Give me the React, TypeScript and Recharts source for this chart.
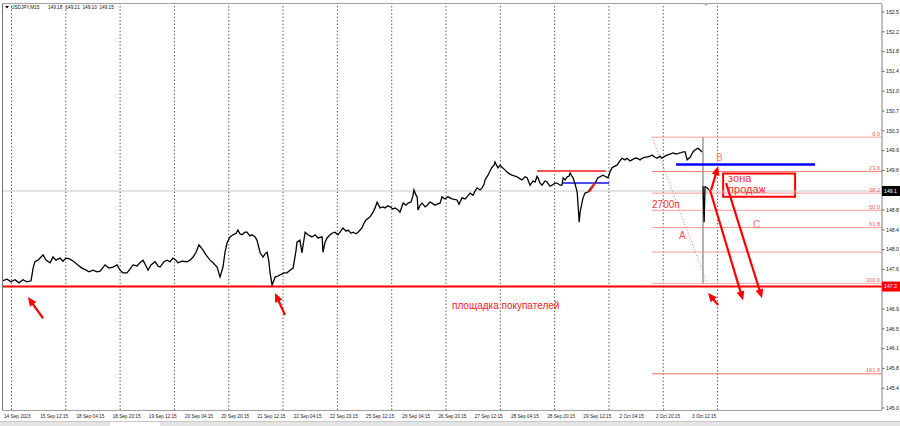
import React from 'react';
import { ComposedChart, Line, XAxis, YAxis, ReferenceLine, ReferenceDot, ReferenceArea } from 'recharts';

// ---------- axes ----------
const X_MAX = 388.4; // hours of trading time shown
const Y_MIN = 144.962;
const Y_MAX = 152.652;

const X_TICKS = [0, 16, 32, 48, 64, 80, 96, 112, 128, 144, 160, 176, 192, 208, 224, 240, 256, 272, 288, 304];
const X_LABELS = [
  '14 Sep 2023', '15 Sep 12:15', '18 Sep 04:15', '18 Sep 20:15', '19 Sep 12:15', '20 Sep 04:15',
  '20 Sep 20:15', '21 Sep 12:15', '22 Sep 04:15', '22 Sep 20:15', '25 Sep 12:15', '26 Sep 04:15',
  '26 Sep 20:15', '27 Sep 12:15', '28 Sep 04:15', '28 Sep 20:15', '29 Sep 12:15', '2 Oct 04:15',
  '2 Oct 20:15', '3 Oct 12:15',
];
const DAY_SEPARATORS = [3.75, 27.75, 51.75, 75.75, 99.75, 123.75, 147.75, 171.75, 195.75, 219.75, 243.75, 267.75, 291.75, 315.75];

const Y_TICKS = [145.0, 145.375, 145.75, 146.125, 146.5, 146.875, 147.625, 148.0, 148.375, 148.75, 149.5, 149.875, 150.25, 150.625, 151.0, 151.375, 151.75, 152.125, 152.5];
const Y_LABELS = ['145.0', '145.4', '145.8', '146.1', '146.5', '146.9', '147.6', '148.0', '148.4', '148.8', '149.6', '149.9', '150.3', '150.7', '151.0', '151.4', '151.8', '152.2', '152.5'];

const TAG_PRICES = [147.30, 149.11];
const TAG_LABELS = ['147.3', '149.1'];
const TAG_COLORS = ['#ff0000', '#000000'];

const HEADER_TEXTS = ['USDJPY,M15', '149.18', '149.21', '149.10', '149.15'];

// ---------- price (M15 close, USDJPY) as [hours since start, price] ----------
const PRICE_SERIES: Array<[number, number | null]> = [
  [0, 147.41], [1.8, 147.44], [3.5, 147.39], [5.3, 147.43], [7.1, 147.37], [8.8, 147.43], [10.6, 147.39], [12.4, 147.41],
  [13.3, 147.65], [14.1, 147.77], [15.5, 147.80], [16.8, 147.86], [17.7, 147.90], [19.0, 147.80], [20.8, 147.75], [22.1, 147.86],
  [23.4, 147.80], [25.2, 147.84], [26.5, 147.78], [27.8, 147.84], [29.6, 147.82], [31.4, 147.77], [33.1, 147.71], [34.9, 147.65],
  [36.7, 147.61], [38.0, 147.58], [39.8, 147.61], [41.5, 147.58], [42.9, 147.59], [45.1, 147.71], [46.8, 147.65], [48.6, 147.67],
  [50.4, 147.71], [51.7, 147.61], [53.0, 147.56], [54.8, 147.56], [56.1, 147.63], [57.4, 147.71], [59.2, 147.69], [60.5, 147.75],
  [61.9, 147.80], [63.2, 147.69], [64.1, 147.61], [65.4, 147.71], [67.2, 147.77], [68.5, 147.69], [69.4, 147.67], [71.1, 147.77],
  [72.5, 147.80], [73.8, 147.77], [75.1, 147.84], [76.4, 147.80], [77.3, 147.75], [79.1, 147.78], [81.3, 147.77], [82.6, 147.80],
  [84.0, 147.86], [85.3, 147.95], [86.6, 148.09], [88.4, 147.99], [89.7, 147.90], [91.5, 147.80], [92.8, 147.75], [94.6, 147.67],
  [95.9, 147.48], [97.2, 147.67], [98.1, 147.95], [99.0, 148.13], [100.3, 148.24], [101.6, 148.28], [103.0, 148.31], [103.8, 148.37],
  [104.7, 148.30], [105.6, 148.28], [106.9, 148.33], [107.8, 148.33], [109.1, 148.26], [110.0, 148.28], [111.4, 148.24], [112.2, 148.18],
  [113.1, 148.03], [113.6, 147.94], [114.9, 147.86], [115.8, 147.92], [116.7, 147.95], [117.5, 147.77], [118.0, 147.56], [118.9, 147.33],
  [119.8, 147.43], [120.2, 147.48], [121.5, 147.50], [122.4, 147.52], [124.2, 147.56], [125.5, 147.56], [126.8, 147.61], [128.2, 147.65],
  [129.5, 147.99], [129.9, 148.14], [131.2, 148.18], [132.1, 147.94], [133.5, 148.33], [134.8, 148.28], [136.5, 148.24], [137.9, 148.28],
  [139.2, 148.22], [141.0, 148.24], [141.4, 147.95], [142.3, 148.14], [143.2, 148.22], [144.5, 148.28], [145.4, 148.31], [146.7, 148.33],
  [148.0, 148.28], [148.9, 148.33], [150.2, 148.41], [151.6, 148.35], [152.5, 148.37], [153.8, 148.31], [154.7, 148.33], [156.0, 148.30],
  [156.9, 148.33], [158.6, 148.41], [159.5, 148.50], [160.4, 148.56], [162.2, 148.62], [163.5, 148.71], [164.4, 148.79], [165.3, 148.90],
  [166.6, 148.79], [167.9, 148.81], [168.8, 148.79], [170.1, 148.83], [171.0, 148.81], [172.3, 148.77], [173.2, 148.79], [174.6, 148.75],
  [175.4, 148.71], [176.8, 148.88], [178.1, 148.84], [179.0, 148.88], [180.3, 148.90], [181.2, 149.03], [181.6, 149.13], [182.5, 149.03],
  [183.0, 149.00], [183.4, 148.75], [184.3, 148.84], [185.2, 148.88], [186.5, 148.81], [187.4, 148.84], [188.7, 148.90], [189.6, 148.88],
  [190.9, 148.84], [191.8, 148.86], [193.1, 148.88], [194.0, 149.00], [195.3, 148.96], [196.6, 149.00], [198.4, 148.96], [200.6, 148.94],
  [201.5, 148.86], [202.8, 148.98], [204.2, 148.96], [205.0, 149.00], [206.4, 149.07], [207.7, 149.03], [208.6, 149.11], [209.5, 149.17],
  [210.8, 149.13], [211.7, 149.17], [212.6, 149.24], [213.0, 149.32], [214.3, 149.41], [215.2, 149.49], [216.1, 149.56], [217.0, 149.60],
  [217.4, 149.66], [218.3, 149.58], [218.7, 149.55], [219.6, 149.60], [220.5, 149.56], [221.8, 149.51], [222.7, 149.47], [224.0, 149.43],
  [224.9, 149.41], [226.3, 149.39], [227.1, 149.38], [228.5, 149.34], [229.3, 149.32], [230.7, 149.38], [231.6, 149.36], [232.5, 149.26],
  [232.9, 149.22], [234.2, 149.30], [235.1, 149.28], [236.0, 149.39], [236.4, 149.36], [237.3, 149.26], [238.2, 149.22], [239.5, 149.30],
  [240.4, 149.28], [241.7, 149.20], [242.6, 149.22], [243.9, 149.26], [244.8, 149.26], [246.2, 149.22], [247.0, 149.22], [247.5, 149.36],
  [248.4, 149.32], [249.3, 149.38], [250.1, 149.39], [250.6, 149.45], [251.5, 149.38], [251.9, 149.36], [252.8, 149.24], [253.7, 149.09],
  [254.1, 148.84], [254.6, 148.52], [255.0, 148.71], [255.9, 148.90], [256.3, 148.98], [257.2, 149.07], [258.5, 149.09], [259.4, 149.15],
  [260.7, 149.22], [261.6, 149.26], [262.9, 149.36], [263.8, 149.38], [265.1, 149.41], [266.0, 149.39], [267.3, 149.36], [268.2, 149.47],
  [269.1, 149.55], [270.4, 149.58], [271.3, 149.60], [272.6, 149.68], [273.5, 149.73], [274.8, 149.70], [275.7, 149.73], [277.1, 149.68],
  [277.9, 149.70], [279.3, 149.73], [280.2, 149.73], [281.5, 149.70], [282.4, 149.73], [283.7, 149.75], [284.6, 149.75], [285.9, 149.77],
  [286.8, 149.79], [288.1, 149.75], [289.0, 149.73], [290.3, 149.77], [291.2, 149.73], [292.5, 149.77], [293.4, 149.79], [294.7, 149.81],
  [296.1, 149.83], [297.4, 149.81], [299.2, 149.83], [300.5, 149.85], [301.4, 149.85], [302.3, 149.70], [303.6, 149.75], [304.9, 149.85],
  [305.8, 149.89], [307.1, 149.92], [307.9, 149.89], [308.9, 149.85],
  [309.1, null],
  [309.3, 149.20], [309.8, 148.52], [310.2, 149.19], [311.1, 149.17], [312.0, 149.13],
];

// ---------- Fibonacci grid ----------
const FIB_START = 286.8;
const FIB_LEVELS = [150.13, 149.48, 149.07, 148.745, 148.418, 147.953, 147.36, 145.648];
const FIB_LABELS = ['0.0', '23.6', '38.2', '50.0', '61.8', '', '100.0', '161.8'];
const FIB_COLORS = ['#ff9a9a', '#ff7a7a', '#ff9a9a', '#ff9a9a', '#ff9a9a', '#ff9a9a', '#ffaaaa', '#ff6a6a'];

// ---------- drawn objects ----------
const SUPPORT_PRICE = 147.30;
const CURRENT_PRICE = 149.11;
const SPIKE = { t: 309.3, high: 150.13, low: 147.36 };
const LEG_A = [{ t: 286.8, p: 150.13 }, { t: 311.1, p: 147.36 }];
const BLUE_LINE = [{ t: 297.4, p: 149.61 }, { t: 358.8, p: 149.61 }];
const RED_SHORT = [{ t: 236.0, p: 149.49 }, { t: 266.5, p: 149.49 }];
const BLUE_SHORT = [{ t: 247.5, p: 149.26 }, { t: 267.8, p: 149.26 }];
const RED_TICK = [{ t: 259.0, p: 149.09 }, { t: 261.6, p: 149.26 }];
const SELL_ZONE = { t1: 318.2, t2: 350.0, p1: 149.44, p2: 149.00 };

const ARROWS: Array<{ from: [number, number]; to: [number, number]; w: number }> = [
  { from: [17.7, 146.70], to: [11.0, 147.10], w: 2.2 },
  { from: [124.6, 146.76], to: [120.2, 147.18], w: 2.2 },
  { from: [316.0, 146.95], to: [311.5, 147.18], w: 2.2 },
  { from: [312.9, 149.13], to: [316.0, 149.58], w: 2.2 },
  { from: [312.4, 149.13], to: [327.0, 147.04], w: 2.2 },
  { from: [319.5, 149.26], to: [335.4, 147.08], w: 2.2 },
];

const NOTES: Array<{ t: number; p: number; text: string; size: number; color: string }> = [
  { t: 286.8, p: 148.79, text: '2700п', size: 10, color: '#ff3030' },
  { t: 298.7, p: 148.20, text: 'A', size: 10, color: '#ff4a4a' },
  { t: 315.1, p: 149.68, text: 'B', size: 10, color: '#ff7a7a' },
  { t: 331.4, p: 148.41, text: 'C', size: 10, color: '#ff6a6a' },
  { t: 320.4, p: 149.28, text: 'зона', size: 11, color: '#ff3030' },
  { t: 320.4, p: 149.07, text: 'продаж', size: 11, color: '#ff3030' },
  { t: 198.4, p: 146.87, text: 'площадка покупателей', size: 10, color: '#ff2020' },
];

const FONT = '"Liberation Sans", Arial, sans-serif';

const chartData = PRICE_SERIES.map(([t, p]) => ({ t, p }));

const XTick = (props: any) => {
  const { x, y, payload } = props;
  const i = X_TICKS.indexOf(payload.value);
  return (
    <text x={x + 1} y={y + 8} fontSize={4.7} fill="#222" fontFamily={FONT}>
      {X_LABELS[i]}
    </text>
  );
};

const YTick = (props: any) => {
  const { x, y, payload } = props;
  const ti = TAG_PRICES.indexOf(payload.value);
  if (ti >= 0) {
    return (
      <g>
        <rect x={x} y={y - 5} width={18} height={10} fill={TAG_COLORS[ti]} />
        <text x={x + 2} y={y + 1.8} fontSize={5.2} fill="#ffffff" fontFamily={FONT}>
          {TAG_LABELS[ti]}
        </text>
      </g>
    );
  }
  const i = Y_TICKS.indexOf(payload.value);
  return (
    <g>
      <line x1={x} x2={x + 2.5} y1={y} y2={y} stroke="#444" strokeWidth={0.8} />
      <text x={x + 4} y={y + 1.8} fontSize={5.2} fill="#222" fontFamily={FONT}>
        {Y_LABELS[i]}
      </text>
    </g>
  );
};

const arrowShape = (w: number) => (p: any) => {
  const { x1, y1, x2, y2 } = p;
  const dx = x2 - x1;
  const dy = y2 - y1;
  const len = Math.hypot(dx, dy) || 1;
  const ux = dx / len;
  const uy = dy / len;
  const hl = 9;
  const hw = 4;
  const bx = x2 - ux * hl;
  const by = y2 - uy * hl;
  const pts = `${x2},${y2} ${bx - uy * hw},${by + ux * hw} ${bx + uy * hw},${by - ux * hw}`;
  return (
    <g>
      <line x1={x1} y1={y1} x2={bx + ux * 1} y2={by + uy * 1} stroke="#ff0000" strokeWidth={w} />
      <polygon points={pts} fill="#ff0000" />
    </g>
  );
};

const textShape = (text: string, size: number, color: string, anchor: string = 'start') => (p: any) => (
  <text x={p.cx} y={p.cy} fontSize={size} fill={color} fontFamily={FONT} textAnchor={anchor}>
    {text}
  </text>
);

const fibLabelShape = (text: string, color: string) => (p: any) => (
  <text x={p.cx - 2} y={p.cy - 1.5} fontSize={5.6} fill={color} fontFamily={FONT} textAnchor="end">
    {text}
  </text>
);

export default function App() {
  return (
    <div style={{ position: 'absolute', left: 0, top: 0, width: 900, height: 426, background: '#ffffff' }}>
      <ComposedChart
        width={900}
        height={426}
        data={chartData}
        margin={{ top: 4, right: 0, bottom: 0, left: 3 }}
      >
        <XAxis
          dataKey="t"
          type="number"
          domain={[0, X_MAX]}
          ticks={X_TICKS}
          interval={0}
          height={16}
          axisLine={false}
          tickLine={false}
          tickSize={0}
          tickMargin={0}
          tick={<XTick />}
          allowDataOverflow
        />
        <YAxis
          orientation="right"
          type="number"
          domain={[Y_MIN, Y_MAX]}
          ticks={[...Y_TICKS, ...TAG_PRICES]}
          interval={0}
          width={18}
          axisLine={{ stroke: '#808080' }}
          tickLine={false}
          tickSize={0}
          tickMargin={0}
          tick={<YTick />}
          allowDataOverflow
        />

        {DAY_SEPARATORS.map((t) => (
          <ReferenceLine key={'d' + t} x={t} stroke="#606060" strokeDasharray="1.5 2" strokeWidth={1} />
        ))}

        <ReferenceLine y={CURRENT_PRICE} stroke="#c8c8c8" strokeWidth={1} />

        {FIB_LEVELS.map((lv, i) => (
          <ReferenceLine
            key={'f' + i}
            segment={[{ x: FIB_START, y: lv }, { x: X_MAX, y: lv }]}
            stroke={FIB_COLORS[i]}
            strokeWidth={1}
          />
        ))}
        {FIB_LEVELS.map((lv, i) =>
          FIB_LABELS[i] ? (
            <ReferenceDot key={'fl' + i} x={X_MAX} y={lv} ifOverflow="visible" shape={fibLabelShape(FIB_LABELS[i], '#ff5a5a')} />
          ) : null
        )}

        <ReferenceLine y={SUPPORT_PRICE} stroke="#ff0000" strokeWidth={2} />

        <ReferenceLine
          segment={[{ x: LEG_A[0].t, y: LEG_A[0].p }, { x: LEG_A[1].t, y: LEG_A[1].p }]}
          stroke="#ff6a6a"
          strokeDasharray="1 2"
          strokeWidth={1}
        />
        <ReferenceLine
          segment={[{ x: SPIKE.t, y: SPIKE.high }, { x: SPIKE.t, y: SPIKE.low }]}
          stroke="#9a9a9a"
          strokeWidth={1.5}
        />

        <ReferenceLine segment={[{ x: RED_SHORT[0].t, y: RED_SHORT[0].p }, { x: RED_SHORT[1].t, y: RED_SHORT[1].p }]} stroke="#ff5050" strokeWidth={2} />
        <ReferenceLine segment={[{ x: BLUE_SHORT[0].t, y: BLUE_SHORT[0].p }, { x: BLUE_SHORT[1].t, y: BLUE_SHORT[1].p }]} stroke="#1010e0" strokeWidth={1.5} />
        <ReferenceLine segment={[{ x: BLUE_LINE[0].t, y: BLUE_LINE[0].p }, { x: BLUE_LINE[1].t, y: BLUE_LINE[1].p }]} stroke="#0000ff" strokeWidth={2.5} />

        <ReferenceArea
          x1={SELL_ZONE.t1}
          x2={SELL_ZONE.t2}
          y1={SELL_ZONE.p2}
          y2={SELL_ZONE.p1}
          fill="none"
          fillOpacity={0}
          stroke="#ff0000"
          strokeWidth={2}
          ifOverflow="visible"
        />

        <Line
          type="linear"
          dataKey="p"
          stroke="#000000"
          strokeWidth={1.3}
          dot={false}
          activeDot={false}
          isAnimationActive={false}
          connectNulls={false}
        />

        <ReferenceLine segment={[{ x: RED_TICK[0].t, y: RED_TICK[0].p }, { x: RED_TICK[1].t, y: RED_TICK[1].p }]} stroke="#ff2020" strokeWidth={2} />

        {ARROWS.map((a, i) => (
          <ReferenceLine
            key={'a' + i}
            segment={[{ x: a.from[0], y: a.from[1] }, { x: a.to[0], y: a.to[1] }]}
            shape={arrowShape(a.w)}
            ifOverflow="visible"
          />
        ))}

        {NOTES.map((n, i) => (
          <ReferenceDot key={'n' + i} x={n.t} y={n.p} ifOverflow="visible" shape={textShape(n.text, n.size, n.color)} />
        ))}
      </ComposedChart>

      <svg
        width={900}
        height={426}
        style={{ position: 'absolute', left: 0, top: 0, pointerEvents: 'none' }}
      >
        <line x1={2.5} y1={3} x2={2.5} y2={410} stroke="#707070" strokeWidth={1} />
        <line x1={2} y1={3.5} x2={882} y2={3.5} stroke="#a0a0a0" strokeWidth={1} />
        <line x1={2} y1={410.5} x2={882} y2={410.5} stroke="#a0a0a0" strokeWidth={1} />
        <polygon points="5,6 9,6 7,8.5" fill="#000" />
        <text x={11} y={9} fontSize={4.7} fill="#111" fontFamily={FONT}>{HEADER_TEXTS[0]}</text>
        <text x={48} y={9} fontSize={4.7} fill="#111" fontFamily={FONT}>{HEADER_TEXTS[1]}</text>
        <text x={65.5} y={9} fontSize={4.7} fill="#111" fontFamily={FONT}>{HEADER_TEXTS[2]}</text>
        <text x={82.5} y={9} fontSize={4.7} fill="#111" fontFamily={FONT}>{HEADER_TEXTS[3]}</text>
        <text x={99.5} y={9} fontSize={4.7} fill="#111" fontFamily={FONT}>{HEADER_TEXTS[4]}</text>
        <polygon points="703,3 709,3 706,6" fill="#b0b0b0" />
        <rect x={0} y={421} width={900} height={5} fill="#e4e4e4" />
        <line x1={0} y1={421.5} x2={900} y2={421.5} stroke="#c8c8c8" />
        <rect x={110} y={422} width={50} height={4} fill="#ffffff" />
      </svg>
    </div>
  );
}
